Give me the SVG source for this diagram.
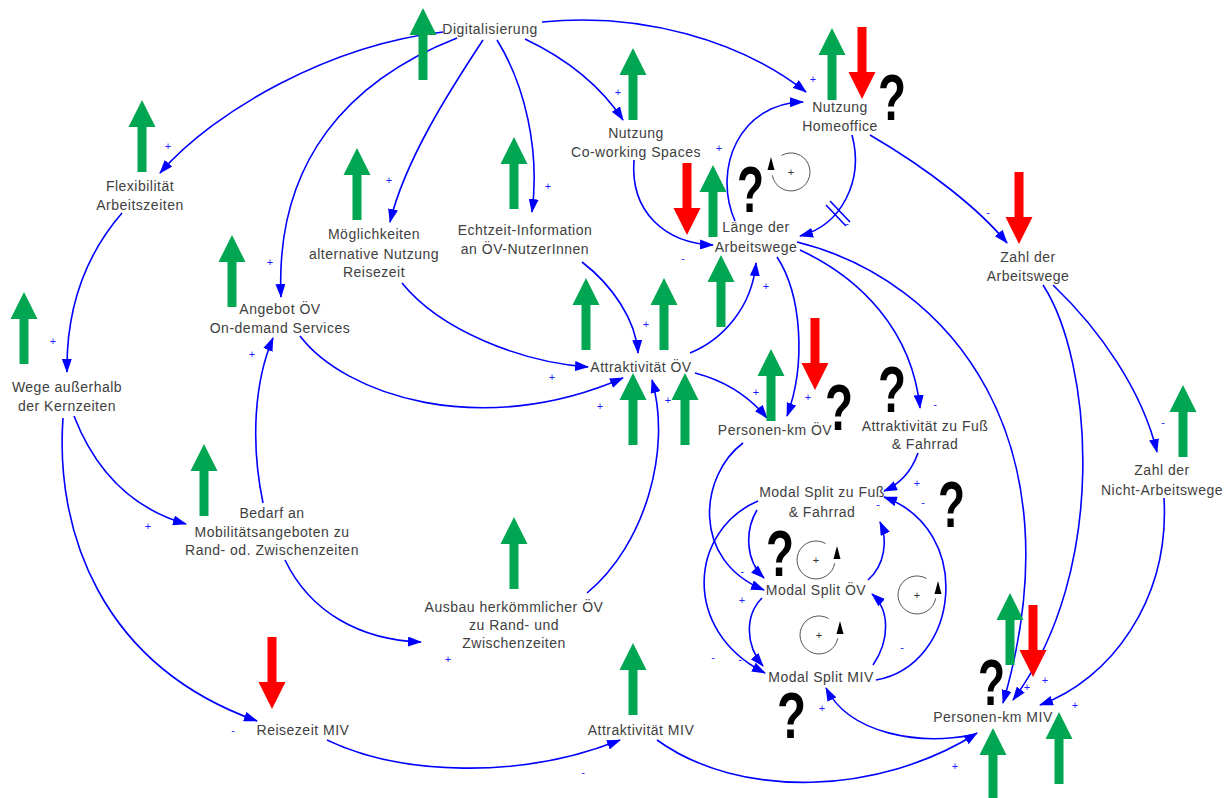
<svg xmlns="http://www.w3.org/2000/svg" xmlns:xlink="http://www.w3.org/1999/xlink" width="1231" height="798" viewBox="0 0 1231 798">
<style>
.lbl{font-family:"Liberation Sans",Arial,sans-serif;font-size:14px;fill:#404040;text-anchor:middle;letter-spacing:0.5px}
.lnk{fill:none;stroke:#0000ff;stroke-width:1.6;marker-end:url(#ah)}
.sg{font-family:"Liberation Sans",Arial,sans-serif;font-size:11px;fill:#2020ff;text-anchor:middle}
.q{font-family:"Liberation Sans",Arial,sans-serif;font-weight:bold;font-size:64px;fill:#000}
.loop{fill:none;stroke:#555;stroke-width:1}
.lp{font-family:"Liberation Sans",Arial,sans-serif;font-size:11px;fill:#333;text-anchor:middle}
.g{fill:#00a651}
.r{fill:#ff0000}
</style>
<defs>
<marker id="ah" markerUnits="userSpaceOnUse" markerWidth="14" markerHeight="10" refX="13" refY="5" orient="auto"><path d="M0,0 L14,5 L0,10 z" fill="#0000ff"/></marker>
<path id="up" d="M0 0 L13.5 27 L4.5 27 L4.5 72 L-4.5 72 L-4.5 27 L-13.5 27 Z"/>
<path id="dn" d="M0 72 L13.5 45 L4.5 45 L4.5 0 L-4.5 0 L-4.5 45 L-13.5 45 Z"/>
</defs>
<rect width="1231" height="798" fill="#fff"/>

<g id="connectors">
<path class="lnk" d="M443 32 C330 45,215 110,160 173"/>
<path class="lnk" d="M457 38 C350 80,275 160,281 297"/>
<path class="lnk" d="M483 40 C450 90,405 160,390 222"/>
<path class="lnk" d="M497 40 C525 85,540 150,532 212"/>
<path class="lnk" d="M525 39 C565 58,600 85,623 120"/>
<path class="lnk" d="M542 22 C640 12,740 40,806 92"/>
<path class="lnk" d="M122 213 C90 250,66 300,67 372"/>
<path class="lnk" d="M74 416 C95 470,130 508,186 524"/>
<path class="lnk" d="M63 418 C55 530,100 665,257 721"/>
<path class="lnk" d="M263 503 C250 440,255 380,273 338"/>
<path class="lnk" d="M285 560 C310 612,360 640,421 642"/>
<path class="lnk" d="M300 336 C345 395,480 440,623 378"/>
<path class="lnk" d="M402 283 C440 330,520 362,588 367"/>
<path class="lnk" d="M582 262 C612 285,636 320,638 353"/>
<path class="lnk" d="M587 593 C645 545,672 450,652 380"/>
<path class="lnk" d="M690 353 C722 340,752 308,756 263"/>
<path class="lnk" d="M695 373 C722 380,748 395,767 418"/>
<path class="lnk" d="M777 257 C802 295,806 365,787 416"/>
<path class="lnk" d="M634 160 C630 212,665 243,713 245"/>
<path class="lnk" d="M735 221 C712 168,740 103,803 102"/>
<path class="lnk" d="M852 135 C864 180,842 225,800 236"/>
<path class="lnk" d="M870 135 C930 170,980 210,1007 243"/>
<path class="lnk" d="M797 242 C950 280,1080 440,1003 703"/>
<path class="lnk" d="M800 250 C860 278,912 330,920 408"/>
<path class="lnk" d="M1043 285 C1092 360,1110 570,1013 700"/>
<path class="lnk" d="M1053 285 C1100 330,1142 390,1157 452"/>
<path class="lnk" d="M1164 498 C1170 600,1110 680,1040 705"/>
<path class="lnk" d="M918 453 C912 470,902 483,884 491"/>
<path class="lnk" d="M743 443 C700 475,690 560,764 590"/>
<path class="lnk" d="M757 510 C745 530,745 560,764 578"/>
<path class="lnk" d="M758 501 C690 530,680 630,765 673"/>
<path class="lnk" d="M762 598 C745 615,745 645,763 666"/>
<path class="lnk" d="M873 665 C890 640,890 610,872 594"/>
<path class="lnk" d="M868 580 C885 565,888 540,880 522"/>
<path class="lnk" d="M876 680 C960 665,975 530,884 497"/>
<path class="lnk" d="M972 735 C920 745,850 735,826 688"/>
<path class="lnk" d="M327 740 C400 775,520 780,620 740"/>
<path class="lnk" d="M657 740 C740 800,880 795,977 733"/>
<g stroke="#0000ff" stroke-width="1.6"><line x1="826" y1="205" x2="846" y2="226"/><line x1="830" y1="201" x2="850" y2="222"/></g>
</g>

<g id="polarities">
<text class="sg" x="168" y="150">+</text><text class="sg" x="389" y="184">+</text><text class="sg" x="270" y="266">+</text>
<text class="sg" x="548" y="190">+</text><text class="sg" x="618" y="96">+</text><text class="sg" x="813" y="83">+</text>
<text class="sg" x="53" y="345">+</text><text class="sg" x="148" y="530">+</text><text class="sg" x="252" y="358">+</text>
<text class="sg" x="448" y="663">+</text><text class="sg" x="552" y="381">+</text><text class="sg" x="600" y="410">+</text>
<text class="sg" x="646" y="328">+</text><text class="sg" x="668" y="404">+</text><text class="sg" x="766" y="290">+</text>
<text class="sg" x="756" y="396">+</text><text class="sg" x="808" y="401">+</text><text class="sg" x="719" y="152">+</text>
<text class="sg" x="917" y="487">+</text><text class="sg" x="742" y="604">+</text><text class="sg" x="822" y="712">+</text>
<text class="sg" x="955" y="770">+</text><text class="sg" x="1027" y="691">+</text><text class="sg" x="1045" y="684">+</text>
<text class="sg" x="1075" y="709">+</text>
<text class="sg" x="233" y="734">-</text><text class="sg" x="583" y="776">-</text><text class="sg" x="683" y="262">-</text>
<text class="sg" x="988" y="216">-</text><text class="sg" x="935" y="408">-</text><text class="sg" x="1163" y="426">-</text>
<text class="sg" x="847" y="227">-</text><text class="sg" x="742" y="575">-</text><text class="sg" x="713" y="661">-</text>
<text class="sg" x="740" y="663">-</text><text class="sg" x="902" y="651">-</text><text class="sg" x="878" y="508">-</text>
<text class="sg" x="923" y="506">-</text>
</g>

<g id="loops">
<path class="loop" d="M781.5 155.5 A19 19 0 1 1 772.3 175.3"/><path d="M771 157 L767.5 170 L774.5 170 Z" fill="#000"/><text class="lp" x="791" y="176">+</text>
<path class="loop" d="M825.5 543.5 A19 19 0 1 0 834.7 563.3"/><path d="M837 546 L833.5 559 L840.5 559 Z" fill="#000"/><text class="lp" x="816" y="564">+</text>
<path class="loop" d="M926.5 578.5 A19 19 0 1 0 935.7 598.3"/><path d="M938 581 L934.5 594 L941.5 594 Z" fill="#000"/><text class="lp" x="917" y="599">+</text>
<path class="loop" d="M828.5 618.5 A19 19 0 1 0 837.7 638.3"/><path d="M840 621 L836.5 634 L843.5 634 Z" fill="#000"/><text class="lp" x="819" y="639">+</text>
</g>

<g id="indicators">
<use href="#up" class="g" x="423" y="8"/><use href="#up" class="g" x="142" y="100"/><use href="#up" class="g" x="357" y="148"/>
<use href="#up" class="g" x="232" y="235"/><use href="#up" class="g" x="24" y="292"/><use href="#up" class="g" x="514" y="137"/>
<use href="#up" class="g" x="633" y="48"/><use href="#up" class="g" x="832" y="28"/><use href="#up" class="g" x="713" y="165"/>
<use href="#up" class="g" x="586" y="278"/><use href="#up" class="g" x="664" y="278"/><use href="#up" class="g" x="721" y="255"/>
<use href="#up" class="g" x="633" y="373"/><use href="#up" class="g" x="685" y="373"/><use href="#up" class="g" x="771" y="349"/>
<use href="#up" class="g" x="1183" y="385"/><use href="#up" class="g" x="204" y="444"/><use href="#up" class="g" x="514" y="517"/>
<use href="#up" class="g" x="633" y="643"/><use href="#up" class="g" x="1010" y="593"/><use href="#up" class="g" x="993" y="728"/>
<use href="#up" class="g" x="1059" y="712"/>
<use href="#dn" class="r" x="862" y="27"/><use href="#dn" class="r" x="687" y="163"/><use href="#dn" class="r" x="1019" y="172"/>
<use href="#dn" class="r" x="815" y="318"/><use href="#dn" class="r" x="272" y="637"/><use href="#dn" class="r" x="1033" y="605"/>
<text class="q" x="878" y="120" textLength="28" lengthAdjust="spacingAndGlyphs">?</text>
<text class="q" x="737" y="212" textLength="27" lengthAdjust="spacingAndGlyphs">?</text>
<text class="q" x="825" y="430" textLength="28" lengthAdjust="spacingAndGlyphs">?</text>
<text class="q" x="878" y="412" textLength="28" lengthAdjust="spacingAndGlyphs">?</text>
<text class="q" x="938" y="527" textLength="27" lengthAdjust="spacingAndGlyphs">?</text>
<text class="q" x="766" y="576" textLength="28" lengthAdjust="spacingAndGlyphs">?</text>
<text class="q" x="777" y="738" textLength="29" lengthAdjust="spacingAndGlyphs">?</text>
<text class="q" x="978" y="705" textLength="27" lengthAdjust="spacingAndGlyphs">?</text>
</g>

<g id="n-digitalisierung"><text class="lbl" x="490" y="34">Digitalisierung</text></g>
<g id="n-flexibilitaet"><text class="lbl" x="140" y="191">Flexibilität</text><text class="lbl" x="140" y="210">Arbeitszeiten</text></g>
<g id="n-moeglichkeiten"><text class="lbl" x="374" y="239">Möglichkeiten</text><text class="lbl" x="374" y="259">alternative Nutzung</text><text class="lbl" x="374" y="277">Reisezeit</text></g>
<g id="n-echtzeit"><text class="lbl" x="525" y="235">Echtzeit-Information</text><text class="lbl" x="525" y="254">an ÖV-NutzerInnen</text></g>
<g id="n-coworking"><text class="lbl" x="636" y="138">Nutzung</text><text class="lbl" x="636" y="157">Co-working Spaces</text></g>
<g id="n-homeoffice"><text class="lbl" x="840" y="112">Nutzung</text><text class="lbl" x="840" y="131">Homeoffice</text></g>
<g id="n-laenge"><text class="lbl" x="756" y="232">Länge der</text><text class="lbl" x="756" y="252">Arbeitswege</text></g>
<g id="n-zahl-arbeitswege"><text class="lbl" x="1028" y="262">Zahl der</text><text class="lbl" x="1028" y="281">Arbeitswege</text></g>
<g id="n-angebot"><text class="lbl" x="280" y="314">Angebot ÖV</text><text class="lbl" x="280" y="333">On-demand Services</text></g>
<g id="n-wege"><text class="lbl" x="67" y="392">Wege außerhalb</text><text class="lbl" x="67" y="411">der Kernzeiten</text></g>
<g id="n-attr-oev"><text class="lbl" x="641" y="372">Attraktivität ÖV</text></g>
<g id="n-pkm-oev"><text class="lbl" x="775" y="435">Personen-km ÖV</text></g>
<g id="n-attr-fuss"><text class="lbl" x="925" y="431">Attraktivität zu Fuß</text><text class="lbl" x="925" y="449">&amp; Fahrrad</text></g>
<g id="n-nicht-arbeitswege"><text class="lbl" x="1162" y="475">Zahl der</text><text class="lbl" x="1162" y="495">Nicht-Arbeitswege</text></g>
<g id="n-bedarf"><text class="lbl" x="272" y="518">Bedarf an</text><text class="lbl" x="272" y="537">Mobilitätsangeboten zu</text><text class="lbl" x="272" y="555">Rand- od. Zwischenzeiten</text></g>
<g id="n-ausbau"><text class="lbl" x="514" y="612">Ausbau herkömmlicher ÖV</text><text class="lbl" x="514" y="630">zu Rand- und</text><text class="lbl" x="514" y="648">Zwischenzeiten</text></g>
<g id="n-ms-fuss"><text class="lbl" x="822" y="497">Modal Split zu Fuß</text><text class="lbl" x="822" y="517">&amp; Fahrrad</text></g>
<g id="n-ms-oev"><text class="lbl" x="816" y="595">Modal Split ÖV</text></g>
<g id="n-ms-miv"><text class="lbl" x="821" y="682">Modal Split MIV</text></g>
<g id="n-pkm-miv"><text class="lbl" x="993" y="722">Personen-km MIV</text></g>
<g id="n-reisezeit"><text class="lbl" x="303" y="735">Reisezeit MIV</text></g>
<g id="n-attr-miv"><text class="lbl" x="641" y="735">Attraktivität MIV</text></g>
</svg>
